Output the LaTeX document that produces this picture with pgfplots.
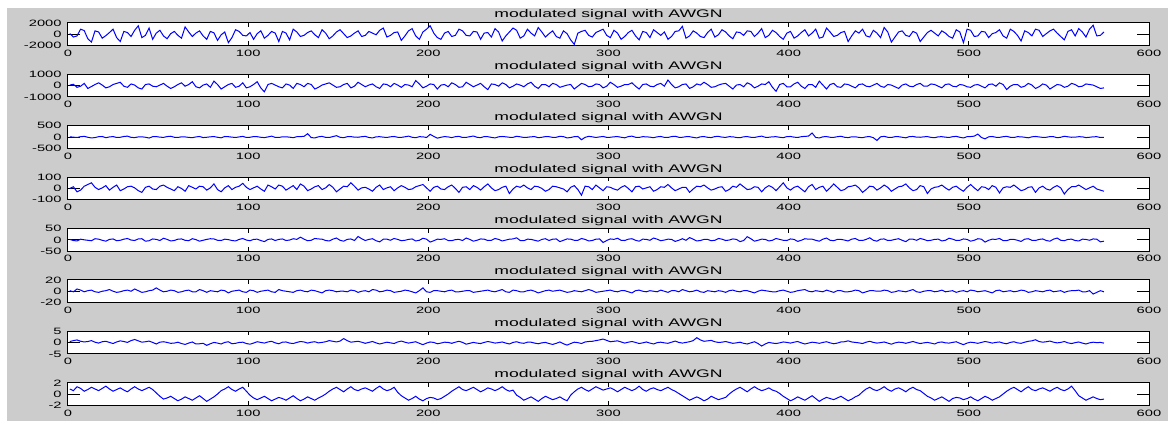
\documentclass[border=0pt]{standalone}
\usepackage{fontspec}
\setmainfont{Liberation Sans}[FakeStretch=1.6]
\usepackage{pgfplots}
\usepackage{pgfplotstable}
\pgfplotsset{compat=1.18}
\definecolor{figgray}{RGB}{204,204,204}
\pgfplotstableread{
x a b c d e f g h
1 120 50 10 0 2 1 0.5 0.9
3 -500 120 -5 15 -3 -1 0.9 0.6
5 -300 -150 -20 -30 -5 4 1.2 1.3
7 900 -50 15 -15 3 2 0.6 1.0
9 650 200 30 20 0 -1 0.3 0.5
11 -800 -250 -10 35 -2 1 0.5 0.8
13 -1400 -80 -40 50 -4 2 0.9 1.2
15 600 100 -25 10 5 -1 0.2 0.9
17 400 250 15 -10 3 -2 -0.2 0.6
19 -700 50 25 5 -2 0 0.4 1.0
21 -250 -200 -30 25 -6 1 0.6 1.4
23 300 -100 5 -15 2 3 0.1 0.9
25 900 100 20 10 4 0 -0.4 0.5
27 -600 200 -20 30 -4 -2 0.3 0.8
29 -1300 300 -10 -20 -2 -1 0.8 1.1
31 500 -50 25 -5 3 1 0.5 0.7
33 300 -150 40 15 6 2 0.1 0.4
35 -400 150 -15 20 -1 0 0.9 0.9
37 700 50 -25 5 -3 4 1.4 1.3
39 1500 -200 5 -20 4 1 0.8 0.9
41 -600 -300 10 -35 5 -2 0.2 0.6
43 -200 100 -10 10 -6 -1 0.4 0.9
45 1100 150 -45 20 -4 1 0.7 1.2
47 -900 -50 15 -5 4 2 0.1 0.8
49 200 -100 20 -10 2 6 -0.6 0.2
51 700 50 -5 20 -3 2 0.2 -0.4
53 -300 200 -15 30 7 -1 0.4 -0.9
55 -800 -50 20 10 2 0 0.1 -0.7
57 100 -250 35 -5 -5 2 -0.3 -0.4
59 500 -100 -10 -20 -3 1 -0.2 -0.8
61 -200 100 -20 15 3 -2 0.2 -1.2
63 -700 250 10 0 4 -1 -0.4 -0.9
65 1300 -50 5 -25 -2 1 -0.8 -0.5
67 400 100 -15 25 -4 2 -0.2 -0.8
69 -400 350 -30 10 5 -1 0.3 -1.1
71 200 -100 5 -5 1 -1 -0.6 -0.7
73 600 -200 25 20 -6 3 -0.5 -0.3
75 -300 50 -25 15 -2 1 -0.3 -0.8
77 -900 150 -10 -15 2 -2 -1.2 -1.3
79 500 -150 10 5 5 1 -0.5 -0.9
81 250 400 20 40 4 0 0.1 -0.5
83 -1100 100 -10 -10 -2 -1 -0.2 0.0
85 -100 -300 -35 -30 -3 2 -0.6 0.6
87 400 -100 25 5 3 1 0.1 0.9
89 -1500 100 15 25 1 -3 0.4 1.3
91 -600 200 -5 -10 -3 0 -0.5 0.8
93 800 -150 -20 10 -5 1 -0.3 0.5
95 500 -50 5 20 2 2 0.1 0.9
97 -200 250 30 45 6 -1 0.2 1.2
99 -300 -200 -20 10 -1 -2 -0.4 0.5
101 300 -100 -10 -10 -4 2 -0.7 -0.2
103 -900 100 20 5 2 1 -0.2 -0.7
105 100 350 15 20 3 -2 0.4 -1.0
107 600 -200 -10 -5 -3 0 0.1 -0.7
109 -700 -550 -25 -25 -8 1 -0.2 -0.4
111 -200 100 5 30 2 2 0.3 -0.8
113 500 200 40 15 4 -1 0.6 -1.2
115 200 50 -15 -5 -3 -2 -0.1 -0.9
117 -1300 -100 -20 30 2 3 -0.5 -0.6
119 500 -200 10 20 4 1 0.2 -0.8
121 200 150 10 -15 -3 0 0.3 -1.1
123 -1000 50 -5 5 -1 -1 -0.2 -0.7
125 900 -250 -30 25 5 -2 -0.4 -0.3
127 400 200 15 -10 2 1 0.1 -0.8
129 -400 100 20 40 12 2 0.5 -1.2
131 -200 -100 30 20 3 0 0.3 -0.9
133 300 200 150 -20 -4 -1 -0.2 -0.5
135 600 100 -25 -5 -2 2 0.2 -0.8
137 -100 -300 -40 15 6 1 0.4 -1.1
139 -600 -150 10 25 4 -1 -0.1 -0.7
141 800 50 30 -10 3 -3 0.1 -0.4
143 200 150 -15 5 -3 1 0.4 0.0
145 -800 250 -20 35 -5 2 0.9 0.5
147 -300 50 20 10 3 1 0.6 0.9
149 400 -150 60 -30 8 -1 0.3 1.2
151 800 -100 -10 -5 -2 0 0.7 0.8
153 100 100 -30 20 -6 0 1.8 0.4
155 -600 200 15 15 2 -1 0.9 0.9
157 -300 -200 20 50 4 2 0.2 1.3
159 200 -50 -5 20 -3 1 0.4 0.8
161 600 300 -10 -15 15 -2 0.6 0.6
163 -400 100 15 5 5 0 0.2 0.9
165 -200 -100 30 10 -3 1 -0.3 1.1
167 500 50 -20 -5 2 -1 0.1 0.8
169 200 150 -40 -25 5 3 0.5 0.5
171 -100 -100 10 10 -4 2 -0.1 1.0
173 700 -250 15 30 -9 -1 -0.6 1.4
175 1100 150 -5 -10 3 0 -0.2 0.9
177 -500 100 -20 5 3 2 0.2 0.6
179 -200 -100 10 15 -2 1 -0.1 0.8
181 300 200 25 -20 6 -2 -0.4 1.2
183 400 50 -10 5 2 -1 0.3 0.3
185 -1100 -150 -15 25 -4 0 0.7 -0.3
187 -300 100 10 10 -2 2 0.2 -0.7
189 600 50 40 -10 2 1 -0.2 -1.1
191 1000 -100 -10 -5 4 -1 0.1 -0.8
193 -300 450 -30 15 -5 -3 0.4 -0.4
195 -900 150 15 25 -2 1 -0.3 -0.9
197 400 -200 10 35 7 6 -0.9 -1.2
199 900 -50 -20 5 3 -1 -0.2 -0.8
201 1500 150 120 -25 -10 -2 0.3 -0.6
203 200 100 30 10 -4 1 0.1 -0.7
205 -600 -300 -50 20 3 1 -0.5 -1.0
207 -900 50 -10 -5 2 0 -0.2 -0.8
209 200 100 20 -10 5 -1 0.2 -0.4
211 500 -100 5 15 -3 1 0.1 0.0
213 -400 250 -25 30 -4 2 -0.3 0.5
215 -200 100 15 0 1 -1 0.2 0.9
217 900 -150 30 -35 2 -1 0.6 1.3
219 600 -100 -20 10 -3 0 0.1 0.8
221 -200 300 -15 15 8 1 -0.7 0.6
223 -300 100 15 -10 2 1 -0.3 0.9
225 500 -100 45 25 -6 -2 0.1 1.2
227 400 50 -10 10 -2 -1 -0.2 0.8
229 -900 200 -30 -15 4 0 -0.4 0.4
231 200 -100 20 15 3 1 0.1 0.7
233 300 -350 15 40 -3 2 0.5 1.1
235 -500 150 -15 5 -2 0 0.2 0.9
237 1000 100 -40 -20 6 -1 -0.2 0.6
239 400 -50 10 -10 2 1 0.0 0.9
241 -1200 250 25 10 -5 3 0.3 1.3
243 -300 100 10 20 -1 -1 -0.2 0.8
245 400 -200 -10 -45 3 -2 -0.6 0.5
247 1100 -50 -15 -5 4 2 0.1 0.7
249 700 150 35 20 9 1 0.4 -0.2
251 -700 50 10 10 -3 -1 -0.1 -0.6
253 -300 -100 -20 30 -4 -1 -0.3 -1.1
255 900 150 -10 5 3 1 0.2 -0.8
257 200 300 10 -10 2 2 0.2 -0.5
259 -300 -50 20 20 -2 0 -0.2 -0.9
261 1200 -250 -30 15 -6 -3 -0.5 -1.3
263 400 100 -10 0 2 -1 -0.1 -0.8
265 -500 100 20 -25 5 1 0.1 -0.4
267 100 -100 15 -10 -3 2 -0.4 -0.7
269 600 200 -15 20 3 0 -0.8 -1.0
271 -400 100 -10 15 4 1 -0.3 -0.8
273 -700 -150 30 5 -8 2 0.3 -0.5
275 600 -50 20 -5 -2 0 -0.5 -0.9
277 100 50 -40 -30 4 -2 -1.1 -1.2
279 -1000 100 -20 10 3 -1 -0.4 -0.2
281 -1800 -300 15 25 -2 1 0.2 0.4
283 200 -50 25 -10 -2 0 0.0 0.9
285 500 200 -120 -60 6 -1 -0.4 1.2
287 700 100 -15 20 2 1 0.3 0.8
289 -200 -100 30 15 -5 3 0.5 0.5
291 -500 -50 10 -10 -3 1 0.6 0.9
293 300 150 -20 30 3 -2 0.9 1.3
295 600 100 5 5 4 -1 1.2 1.0
297 900 -200 25 -20 -12 0 1.6 0.7
299 -200 -50 -15 15 -3 1 1.0 0.9
301 -600 300 -10 10 4 2 0.4 1.1
303 700 100 10 -5 2 0 0.6 0.8
305 200 -150 20 -15 7 -1 0.8 0.4
307 -900 -50 -10 10 -2 1 0.3 0.8
309 -400 100 -35 25 -3 1 -0.2 1.2
311 300 100 20 0 3 -1 0.2 0.9
313 700 250 40 -30 5 -3 0.5 0.6
315 -300 -50 -10 15 -2 1 0.1 0.9
317 -1000 -300 -15 20 -6 2 -0.4 1.4
319 500 100 15 -5 3 0 -0.1 0.8
321 300 150 10 5 2 -1 0.3 0.5
323 -600 -50 -5 15 -2 1 -0.2 0.9
325 800 -100 -30 -25 8 0 -0.6 1.1
327 300 100 10 -10 3 -1 0.0 0.8
329 -200 200 25 15 -4 2 0.2 0.6
331 400 -50 -15 10 -1 0 -0.1 0.9
333 -900 500 -20 35 3 -2 -0.3 1.2
335 -400 100 20 5 2 1 0.2 0.8
337 500 -200 35 -20 -7 1 0.7 0.5
339 600 -100 -10 -5 -2 -1 0.1 0.1
341 1400 100 -10 10 5 3 -0.2 -0.3
343 -700 150 15 10 -2 1 0.1 -0.7
345 -300 -250 15 -35 10 -1 0.4 -1.1
347 600 -100 -15 -5 3 0 0.9 -0.8
349 200 150 -40 20 -5 2 2.2 -0.5
351 -400 50 10 15 -3 -1 1.2 -0.8
353 -600 300 20 30 2 -2 0.6 -1.2
355 300 100 -10 5 2 1 0.8 -0.9
357 900 -150 -25 -15 -4 0 1.0 -0.4
359 -500 -100 20 -5 -2 -1 0.4 -0.7
361 -100 50 30 10 6 1 0.1 -1.0
363 800 150 -5 15 3 0 0.2 -0.8
365 400 200 -15 -25 -3 -2 0.5 -0.6
367 -300 -50 15 -10 -1 1 0.1 0.0
369 -800 -300 10 20 4 2 -0.3 0.5
371 400 50 -20 10 2 0 -0.1 0.9
373 300 100 -30 40 -8 -1 0.2 1.2
375 -200 -100 10 15 -3 1 -0.3 0.8
377 600 250 20 -10 14 1 -0.6 0.4
379 500 100 -10 -5 5 -1 -0.1 0.9
381 -400 -200 -20 15 -6 -3 0.4 1.3
383 200 -50 15 10 -2 0 -0.4 0.9
385 1000 150 40 -30 3 2 -1.5 0.6
387 -600 100 -10 5 2 1 -0.6 0.8
389 -200 350 -10 25 -5 0 0.1 1.1
391 700 -150 10 10 -2 -1 -0.2 0.7
393 300 -500 15 -20 6 -1 -0.4 0.5
395 -400 100 -10 15 2 1 -0.1 0.1
397 -900 200 -30 50 -2 2 0.3 -0.4
399 200 -100 20 5 -3 0 0.1 -0.8
401 500 -100 25 -15 4 -2 -0.2 -1.2
403 -700 150 -5 10 2 -1 0.2 -0.9
405 -300 300 -20 20 -7 1 0.5 -0.5
407 300 -50 15 -5 -2 2 -0.1 -0.8
409 800 -250 30 -30 5 3 -0.6 -1.1
411 -300 100 40 15 3 0 -0.2 -0.7
413 200 100 180 35 3 -1 0.2 -0.3
415 900 -150 -20 -10 -2 1 0.0 -0.8
417 -700 400 -40 10 -6 0 -0.3 -1.3
419 -500 50 10 20 3 -1 0.1 -0.9
421 1100 -300 20 -25 8 2 0.4 -0.6
423 400 100 -10 5 -2 0 -0.1 -0.8
425 -400 200 -15 40 -4 -2 -0.5 -1.0
427 -200 -100 15 10 2 1 -0.2 -0.7
429 300 -150 35 -20 2 1 0.3 -0.4
431 500 150 -10 -10 -1 -1 0.4 -0.8
433 -1300 100 -25 15 -5 -1 0.8 -1.2
435 -300 -50 10 20 3 0 0.3 -0.9
437 600 -200 10 30 6 2 0.1 -0.5
439 200 100 -15 5 -2 1 -0.1 -0.2
441 900 150 -30 -35 -3 -3 -0.4 0.4
443 -300 -50 10 -10 2 -1 0.2 0.9
445 -500 -100 20 20 9 1 0.6 1.2
447 700 50 -30 15 -2 1 0.1 0.8
449 200 200 -150 -15 -6 0 -0.2 0.6
451 -600 -50 10 5 3 0 0.0 0.9
453 1200 -150 30 30 4 2 0.3 1.3
455 400 100 -10 10 -3 1 -0.2 0.8
457 -1400 50 -20 -25 -2 -2 -0.7 0.5
459 -500 -100 15 -5 2 -1 -0.1 0.9
461 400 -250 15 15 5 1 0.2 1.1
463 600 50 -10 20 -2 0 0.1 0.8
465 -200 150 -35 40 -8 -1 -0.3 0.4
467 -400 -50 20 5 3 1 0.1 0.9
469 500 -100 25 -20 3 3 0.5 1.2
471 200 100 -5 -10 -2 -1 0.0 0.8
473 -1300 200 -10 25 6 -2 -0.4 0.6
475 -500 -50 10 15 2 0 -0.1 0.1
477 300 -50 20 -45 -4 1 0.1 -0.4
479 700 150 -15 -5 -2 1 -0.2 -0.7
481 200 100 -30 10 2 -1 -0.6 -1.1
483 -300 -50 10 15 3 0 0.1 -0.8
485 600 -200 15 30 -5 2 0.3 -0.5
487 200 100 -5 5 -2 -1 -0.1 -0.9
489 -400 150 -20 -15 7 0 -0.2 -1.3
491 -700 -50 15 10 3 1 0.1 -0.8
493 800 -100 30 20 -3 -2 0.4 -0.6
495 400 100 -10 -5 -2 0 -0.3 -0.7
497 -1500 50 -40 -25 4 1 -0.9 -1.0
499 900 -100 15 10 2 -1 -0.2 -0.8
501 700 -150 20 35 -6 2 0.2 -0.5
503 -400 50 40 5 -2 1 0.0 -0.9
505 -300 100 130 -20 5 -1 -0.3 -1.2
507 500 -50 -20 15 3 0 0.1 -0.8
509 400 -200 -80 10 -10 1 0.5 -0.4
511 -600 100 10 -10 -2 -1 0.2 -0.7
513 100 150 25 25 3 -3 -0.2 -1.1
515 300 -50 -10 10 2 1 0.1 -0.8
517 800 250 -15 -40 6 2 0.3 -0.5
519 -300 100 15 5 -3 -1 -0.2 0.0
521 -700 -350 30 15 -4 0 -0.5 0.5
523 900 -50 -10 10 2 1 0.1 0.9
525 500 100 -20 30 2 -1 0.4 1.2
527 -200 100 15 5 -2 0 -0.1 0.8
529 -1200 -150 10 -20 -7 2 -0.3 0.4
531 600 -50 -10 -10 3 1 0.2 0.9
533 300 200 -35 10 5 -2 0.6 1.3
535 -300 50 10 15 -2 -1 0.8 0.8
537 900 -250 25 -35 -3 1 1.3 0.6
539 700 -100 5 5 2 0 0.5 0.9
541 -400 150 -15 20 4 -1 0.2 1.1
543 100 50 -10 -5 -3 1 0.4 0.8
545 600 -300 20 -15 -6 2 0.7 0.5
547 900 -100 15 10 3 -1 0.2 0.9
549 200 100 -30 25 8 0 -0.1 1.2
551 -400 50 -10 5 -2 1 0.1 0.8
553 -1000 -150 35 -50 -4 -2 0.5 0.6
555 500 -50 10 -10 2 0 -0.1 0.9
557 800 200 -10 15 3 1 -0.4 1.4
559 -300 100 -5 15 -3 1 0.0 0.6
561 1000 -100 15 30 -5 2 0.3 -0.3
563 400 -50 10 10 3 -1 -0.2 -0.7
565 -500 150 -25 -10 2 -1 -0.6 -1.1
567 900 100 -10 5 -2 1 -0.1 -0.8
569 1600 50 10 20 4 -5 0.2 -0.5
571 -300 -100 15 -5 3 -2 0.0 -0.8
573 -200 -250 -20 -15 -9 1 0.1 -1.0
575 400 -200 -15 -25 -6 -1 -0.2 -0.9
}\data
\pgfplotsset{
  every axis title shift=0pt,
  panel/.style={
    scale only axis, width=540.5pt, height=11.25pt,
    anchor=north west,
    xmin=0, xmax=600,
    xtick={0,100,200,300,400,500,600},
    xticklabels={0,100,200,300,400,500,600},
    tick align=inside, xtick pos=both, ytick pos=both,
    xtick style={/pgfplots/major tick length=2pt, black, line width=0.5pt},
    ytick style={/pgfplots/major tick length=6pt, black, line width=0.5pt},
    axis line style={black, line width=0.5pt},
    axis background/.style={fill=white},
    tick label style={font=\fontsize{4.6}{5}\selectfont, inner sep=0pt},
    xticklabel style={anchor=north, yshift=-2pt},
    yticklabel style={anchor=east, xshift=-3pt},
    title={modulated signal with AWGN},
    title style={font=\fontsize{5.5}{6}\selectfont, at={(0.5,1)}, anchor=base, yshift=2.5pt, inner sep=0pt},
  },
  sig/.style={blue, line width=0.5pt, mark=none},
}
\newcommand{\panel}[3]{%
  \begin{axis}[panel, at={(34pt,#1)}, ymin=-#2, ymax=#2, ytick={-#2,0,#2}, yticklabels={-#2,0,#2}]
    \addplot[sig] table[x=x, y=#3] {\data};
  \end{axis}}
\begin{document}
\begin{tikzpicture}
\fill[white] (0,0) rectangle (584pt,210.5pt);
\fill[figgray] (3.5pt,0) rectangle (584pt,206.5pt);
\panel{199pt}{2000}{a}
\panel{173.3pt}{1000}{b}
\panel{147.6pt}{500}{c}
\panel{121.9pt}{100}{d}
\panel{96.2pt}{50}{e}
\panel{70.5pt}{20}{f}
\panel{44.8pt}{5}{g}
\panel{19.1pt}{2}{h}
\end{tikzpicture}
\end{document}
